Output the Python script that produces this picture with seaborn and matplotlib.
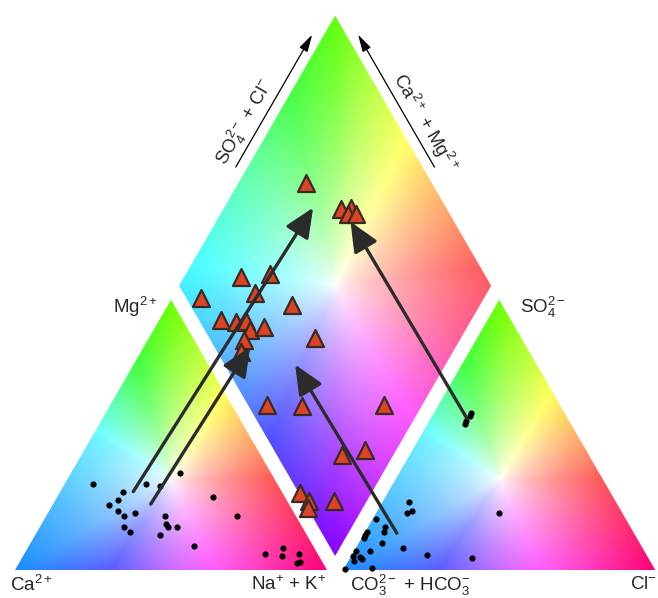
import numpy as np
import matplotlib
matplotlib.use("Agg")
import matplotlib.pyplot as plt
import seaborn as sns
import pandas as pd
from matplotlib.patches import Polygon, FancyArrowPatch, ArrowStyle
from matplotlib.colors import hsv_to_rgb

# ---------------- data (percent) ----------------
# cation triangle: Na+ + K+ (%) and Mg2+ (%); Ca2+ = 100 - both
cat_na = [9, 20, 20, 18, 22, 25, 28, 27, 30, 26, 31, 35, 38, 40, 41, 44, 40, 53, 50, 61,
          77, 82, 83, 88, 90, 89]
cat_mg = [32, 29, 26, 24, 22, 20, 21, 16, 14, 32, 31, 36, 20, 17, 16, 16, 13, 9, 27, 20,
          6, 8, 5, 6, 3, 2.5]
# anion triangle: Cl- (%) and SO4 2- (%); CO3+HCO3 = 100 - both
an_cl = [8.5, 11, 10, 1, 5.5, 6, 0.5, 0.6, 0.6, 7.5, 15, 5, 0.5, 0.7, 3, 4, 1.6, 24, 39, 9,
         0.5, 39.5, 12, 12, 12, 12]
an_so4 = [25, 22, 21, 19, 16, 14, 14, 13, 12, 10, 8, 7, 7, 5, 4.7, 4, 3.4, 5.4, 4.3, 0.6,
          0.3, 21, 58, 57, 55, 54]
# diamond: SO4+Cl (%) and Ca+Mg (%)
dia_so4cl = [59.8, 66.2, 69.4, 67.5, 70.0, 21.3, 31.4, 23.1, 4.7, 32.6, 34.0, 7.2, 11.5,
             14.9, 14.5, 19.7, 10.7, 7.5, 6.1, 17.1, 43.7, 20.9, 29.3, 0.3, 1.9, 0.4, 9.8]
dia_camg = [78.4, 62.3, 59.5, 59.2, 56.5, 81.9, 73.0, 74.3, 90.9, 60.4, 46.8, 80.2, 75.0,
            71.9, 69.3, 65.2, 69.1, 68.1, 49.9, 38.5, 12.3, 16.6, 10.0, 23.1, 18.5, 17.5, 10.4]
# evolution arrows: start in a triangle, end in the diamond
arrow_side = ["cation", "cation", "anion", "anion"]
arrow_start_a = [23.4, 31.3, 10.4, 11.6]   # Na+K or Cl (%)
arrow_start_b = [29.0, 24.4, 13.6, 56.1]   # Mg or SO4 (%)
arrow_end_so4cl = [57.4, 11.5, 22.6, 66.8]
arrow_end_camg = [71.5, 65.9, 48.2, 56.9]

labels_bottom = ["Ca$^{2+}$", "Na$^{+}$ + K$^{+}$", "CO$_3^{2-}$ + HCO$_3^{-}$", "Cl$^{-}$"]
labels_top = ["Mg$^{2+}$", "SO$_4^{2-}$"]
label_axis = ["SO$_4^{2-}$ + Cl$^{-}$", "Ca$^{2+}$ + Mg$^{2+}$"]

# ---------------- geometry ----------------
H = np.sqrt(3) / 2
G = 0.052
BX, BY = 1 + G / 2, G * H


def cation_xy(na, mg):
    na = np.asarray(na) / 100; mg = np.asarray(mg) / 100
    return na + mg / 2, mg * H


def anion_xy(cl, so4):
    cl = np.asarray(cl) / 100; so4 = np.asarray(so4) / 100
    return 1 + G + cl + so4 / 2, so4 * H


def diamond_xy(s, c):
    s = np.asarray(s) / 100; c = np.asarray(c) / 100
    return BX + 0.5 * (s - c), BY + H * (s + c)


def interp_wrap(theta, th_a, val_a):
    t0 = th_a[0]
    t = (theta - t0) % 360 + t0
    return np.interp(t, th_a, val_a)


def shade(h, s, v=1.0):
    return hsv_to_rgb(np.stack([h, np.clip(s, 0, 1), np.full_like(h, v)], -1))


TRI_TH = [-150, -90, -30, 30, 90, 150, 210]
TRI_HUE = [210, 278, 332, 388, 455, 545, 570]
TRI_SMAX = [0.9, 0.95, 1.0, 0.95, 1.0, 0.95, 0.9]
DIA_TH = [-90, -45, 0, 45, 90, 135, 180, 225, 270]
DIA_HUE = [272, 300, 355, 415, 460, 500, 545, 592, 632]
DIA_SMAX = [1.0, 0.85, 0.65, 0.75, 0.95, 0.8, 0.75, 0.85, 1.0]

sns.set_style("white")
plt.rcParams["font.family"] = ["Liberation Sans", "DejaVu Sans"]
plt.rcParams["mathtext.fontset"] = "custom"
plt.rcParams["mathtext.rm"] = "Liberation Sans"
plt.rcParams["mathtext.it"] = "Liberation Sans:italic"
plt.rcParams["mathtext.bf"] = "Liberation Sans:bold"

fig = plt.figure(figsize=(6.58, 5.98), dpi=100)
ax = fig.add_axes([0, 0, 1, 1])
N = 500


def tri_image(x0):
    xs = np.linspace(x0, x0 + 1, N)
    ys = np.linspace(0, H, N)
    X, Y = np.meshgrid(xs, ys)
    ddx, ddy = X - (x0 + 0.5), Y - H / 3
    r = np.hypot(ddx, ddy) / (2 * H / 3)
    th = np.degrees(np.arctan2(ddy, ddx))
    h = (interp_wrap(th, TRI_TH, TRI_HUE) % 360) / 360
    s = interp_wrap(th, TRI_TH, TRI_SMAX) * np.clip(r, 0, 1) ** 0.7
    rgb = shade(h, s)
    im = ax.imshow(rgb, extent=(x0, x0 + 1, 0, H), origin="lower",
                   interpolation="bilinear", zorder=1)
    poly = Polygon([(x0, 0), (x0 + 1, 0), (x0 + 0.5, H)], closed=True,
                   facecolor="none", edgecolor="none", transform=ax.transData)
    ax.add_patch(poly)
    im.set_clip_path(poly)


def diamond_image():
    xs = np.linspace(BX - 0.5, BX + 0.5, N)
    ys = np.linspace(BY, BY + 2 * H, N)
    X, Y = np.meshgrid(xs, ys)
    dx = X - BX; dy = Y - BY
    s_ = dy / (2 * H) + dx
    c_ = dy / (2 * H) - dx
    u, w = s_ - 0.5, c_ - 0.5
    r = np.hypot(u, w) / np.sqrt(0.5)
    th = np.degrees(np.arctan2(u + w, u - w))
    h = (interp_wrap(th, DIA_TH, DIA_HUE) % 360) / 360
    s = interp_wrap(th, DIA_TH, DIA_SMAX) * np.clip(r, 0, 1) ** 0.7
    rgb = shade(h, s)
    im = ax.imshow(rgb, extent=(BX - 0.5, BX + 0.5, BY, BY + 2 * H), origin="lower",
                   interpolation="bilinear", zorder=1)
    poly = Polygon([(BX, BY), (BX + 0.5, BY + H), (BX, BY + 2 * H), (BX - 0.5, BY + H)],
                   closed=True, facecolor="none", edgecolor="none", transform=ax.transData)
    ax.add_patch(poly)
    im.set_clip_path(poly)


tri_image(0.0)
tri_image(1 + G)
diamond_image()

# points
cx, cy = cation_xy(cat_na, cat_mg)
axx, axy = anion_xy(an_cl, an_so4)
dots = pd.DataFrame({"x": np.concatenate([cx, axx]), "y": np.concatenate([cy, axy])})
sns.scatterplot(data=dots, x="x", y="y", ax=ax, color="black", s=20, linewidth=0,
                zorder=5, legend=False)

dx_, dy_ = diamond_xy(dia_so4cl, dia_camg)
tri = pd.DataFrame({"x": dx_, "y": dy_})
sns.scatterplot(data=tri, x="x", y="y", ax=ax, marker="^", s=150, color="#dc4424",
                edgecolor="#3a2a26", linewidth=1.6, zorder=4, legend=False)

# evolution arrows
for side, a, b, s, c in zip(arrow_side, arrow_start_a, arrow_start_b,
                            arrow_end_so4cl, arrow_end_camg):
    p0 = cation_xy(a, b) if side == "cation" else anion_xy(a, b)
    p1 = diamond_xy(s, c)
    arr = FancyArrowPatch((float(p0[0]), float(p0[1])), (float(p1[0]), float(p1[1])),
                          arrowstyle=ArrowStyle("-|>", head_length=1.8, head_width=0.8),
                          mutation_scale=10, lw=2.4, color="#2b2b2b",
                          shrinkA=0, shrinkB=0, zorder=6)
    ax.add_patch(arr)

fs = 13.5
# thin axis arrows along the upper diamond edges, with their labels
off_line, off_text = 0.033, 0.078
t0, t1, tt = 0.42, 0.91, 0.56
L = (BX - 0.5, BY + H)
R = (BX + 0.5, BY + H)
edges = [(L, (0.5, H), (-H, 0.5), 60), (R, (-0.5, H), (H, 0.5), -60)]
for (P, d, n, rot), lab in zip(edges, label_axis):
    p0 = (P[0] + d[0] * t0 + n[0] * off_line, P[1] + d[1] * t0 + n[1] * off_line)
    p1 = (P[0] + d[0] * t1 + n[0] * off_line, P[1] + d[1] * t1 + n[1] * off_line)
    ax.add_patch(FancyArrowPatch(p0, p1, arrowstyle=ArrowStyle("-|>", head_length=1.3,
                                 head_width=0.35), mutation_scale=8, lw=0.9,
                                 color="black", shrinkA=0, shrinkB=0, zorder=6))
    pt = (P[0] + d[0] * tt + n[0] * off_text, P[1] + d[1] * tt + n[1] * off_text)
    ax.text(pt[0], pt[1], lab, ha="center", va="center", fontsize=fs,
            rotation=rot, rotation_mode="anchor")

ax.text(0.054, -0.048, labels_bottom[0], ha="center", va="center", fontsize=fs)
ax.text(0.877, -0.048, labels_bottom[1], ha="center", va="center", fontsize=fs)
ax.text(1.268, -0.048, labels_bottom[2], ha="center", va="center", fontsize=fs)
ax.text(2.058, -0.048, labels_bottom[3], ha="right", va="center", fontsize=fs)
ax.text(0.386, 0.843, labels_top[0], ha="center", va="center", fontsize=fs)
ax.text(1.692, 0.843, labels_top[1], ha="center", va="center", fontsize=fs)

ax.set_aspect("auto")
ax.set_xlim(-15 / 312, 643 / 312)
ax.set_ylim(-28 / 312, 570 / 312)
ax.axis("off")
fig.savefig("out.png", dpi=100, facecolor="white")
